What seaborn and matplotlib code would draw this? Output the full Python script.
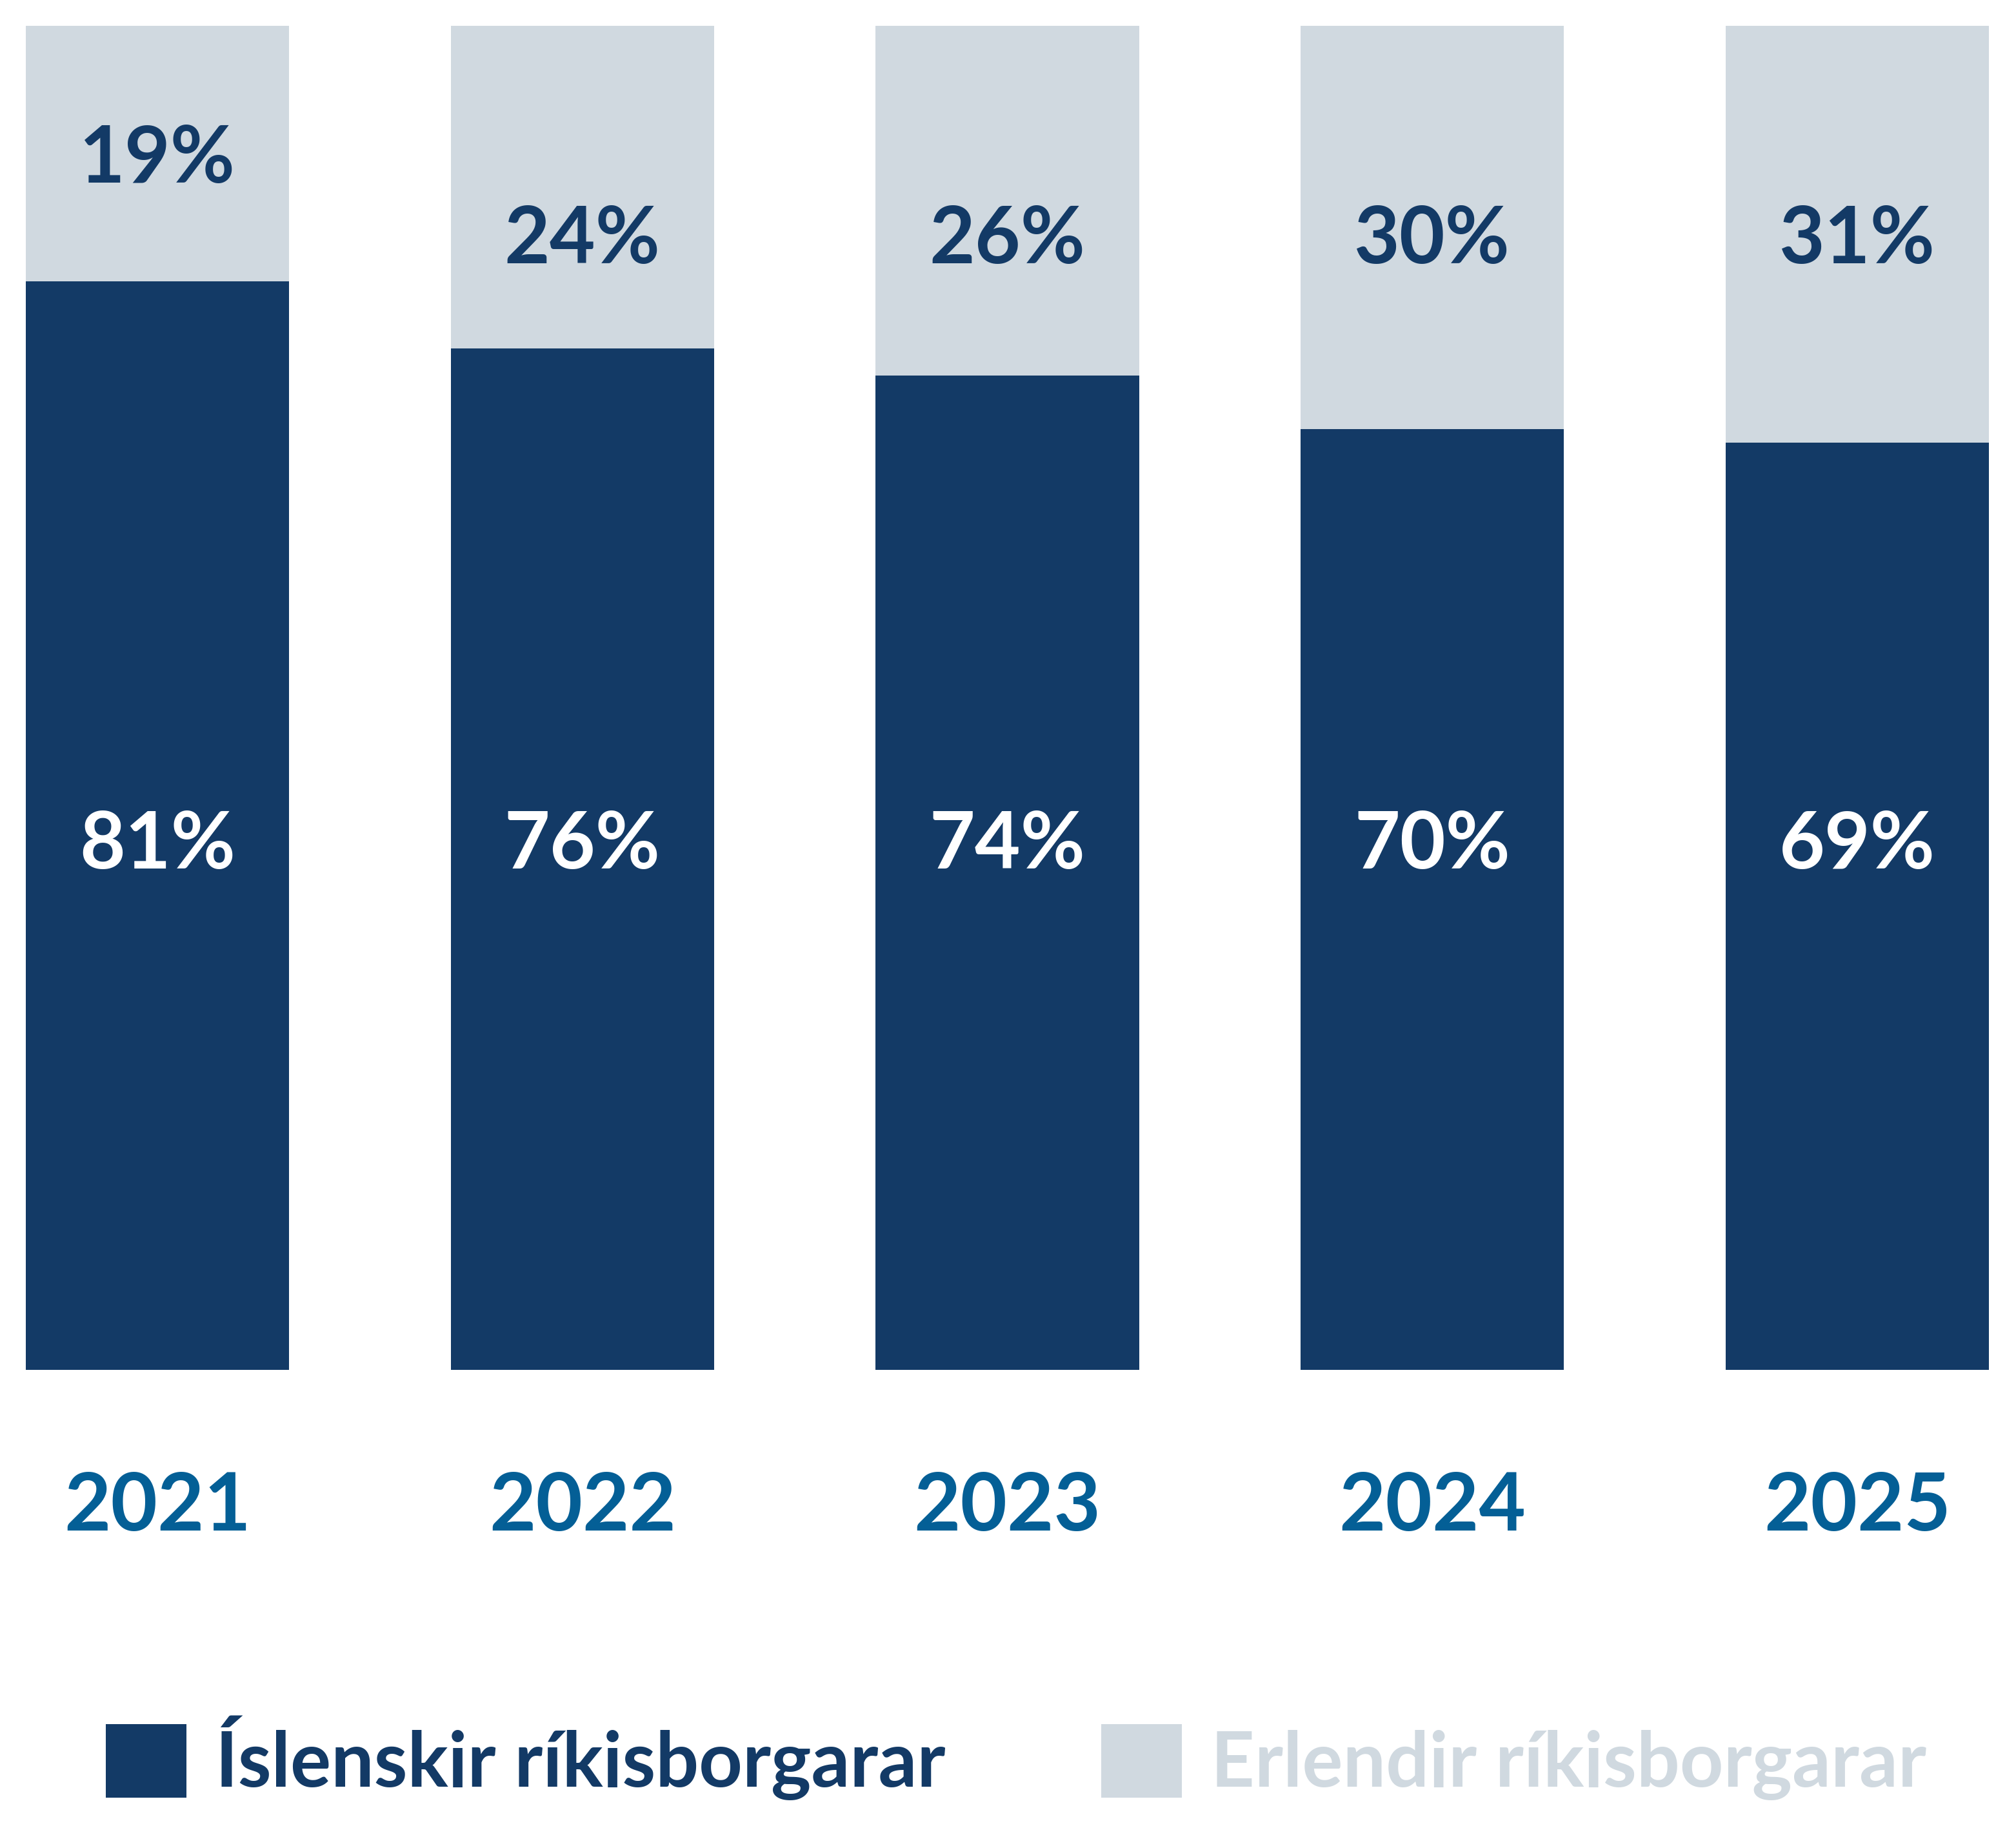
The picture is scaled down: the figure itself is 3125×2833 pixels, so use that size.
import matplotlib
matplotlib.use("Agg")
import matplotlib.pyplot as plt
from matplotlib.patches import Patch
import seaborn as sns
import pandas as pd

# data
years = ["2021", "2022", "2023", "2024", "2025"]
islenskir = [81, 76, 74, 70, 69]
erlendir = [19, 24, 26, 30, 31]
label_names = ["Íslenskir ríkisborgarar", "Erlendir ríkisborgarar"]

NAVY = "#133A66"
GREY = "#D0D9E0"
YEAR_BLUE = "#045F96"

sns.set_theme(style="white")
plt.rcParams["font.family"] = ["Lato", "DejaVu Sans"]

df = pd.DataFrame({"year": years, "isl": islenskir, "erl": erlendir})
df["total"] = df["isl"] + df["erl"]

fig = plt.figure(figsize=(31.25, 28.33), dpi=100)
ax = fig.add_axes([0.01276, 0.2505, 0.97384, 0.7354])

sns.barplot(data=df, x="year", y="total", color=GREY, width=0.62,
            saturation=1, ax=ax, linewidth=0)
sns.barplot(data=df, x="year", y="isl", color=NAVY, width=0.62,
            saturation=1, ax=ax, linewidth=0)

ax.set_xlim(-0.31, 4.31)
ax.set_ylim(0, 100)

# label heights (text positions, data units)
erl_label_y = [90, 84, 84, 84, 84]
isl_label_y = 39

for i, (a, b) in enumerate(zip(islenskir, erlendir)):
    ax.text(i, isl_label_y, f"{a}%", ha="center", va="center",
            fontsize=88, fontweight="bold", color="white")
    ax.text(i, erl_label_y[i], f"{b}%", ha="center", va="center",
            fontsize=88, fontweight="bold", color=NAVY)

ax.set_xlabel("")
ax.set_ylabel("")
ax.set_yticks([])
ax.tick_params(axis="x", length=0, pad=112)
for t in ax.get_xticklabels():
    t.set_fontsize(90)
    t.set_fontweight("bold")
    t.set_color(YEAR_BLUE)
sns.despine(ax=ax, left=True, bottom=True)

handles = [Patch(facecolor=NAVY, edgecolor="none"),
           Patch(facecolor=GREY, edgecolor="none")]
leg = fig.legend(handles, label_names, loc="center left",
                 bbox_to_anchor=(0.0373, 0.0385), ncol=2, frameon=False,
                 handlelength=1.06, handleheight=1.11, handletextpad=0.38,
                 columnspacing=2.05, borderaxespad=0,
                 prop={"size": 85, "weight": "bold"},
                 labelcolor=[NAVY, GREY])

fig.savefig("out.png", dpi=100, facecolor="white")
